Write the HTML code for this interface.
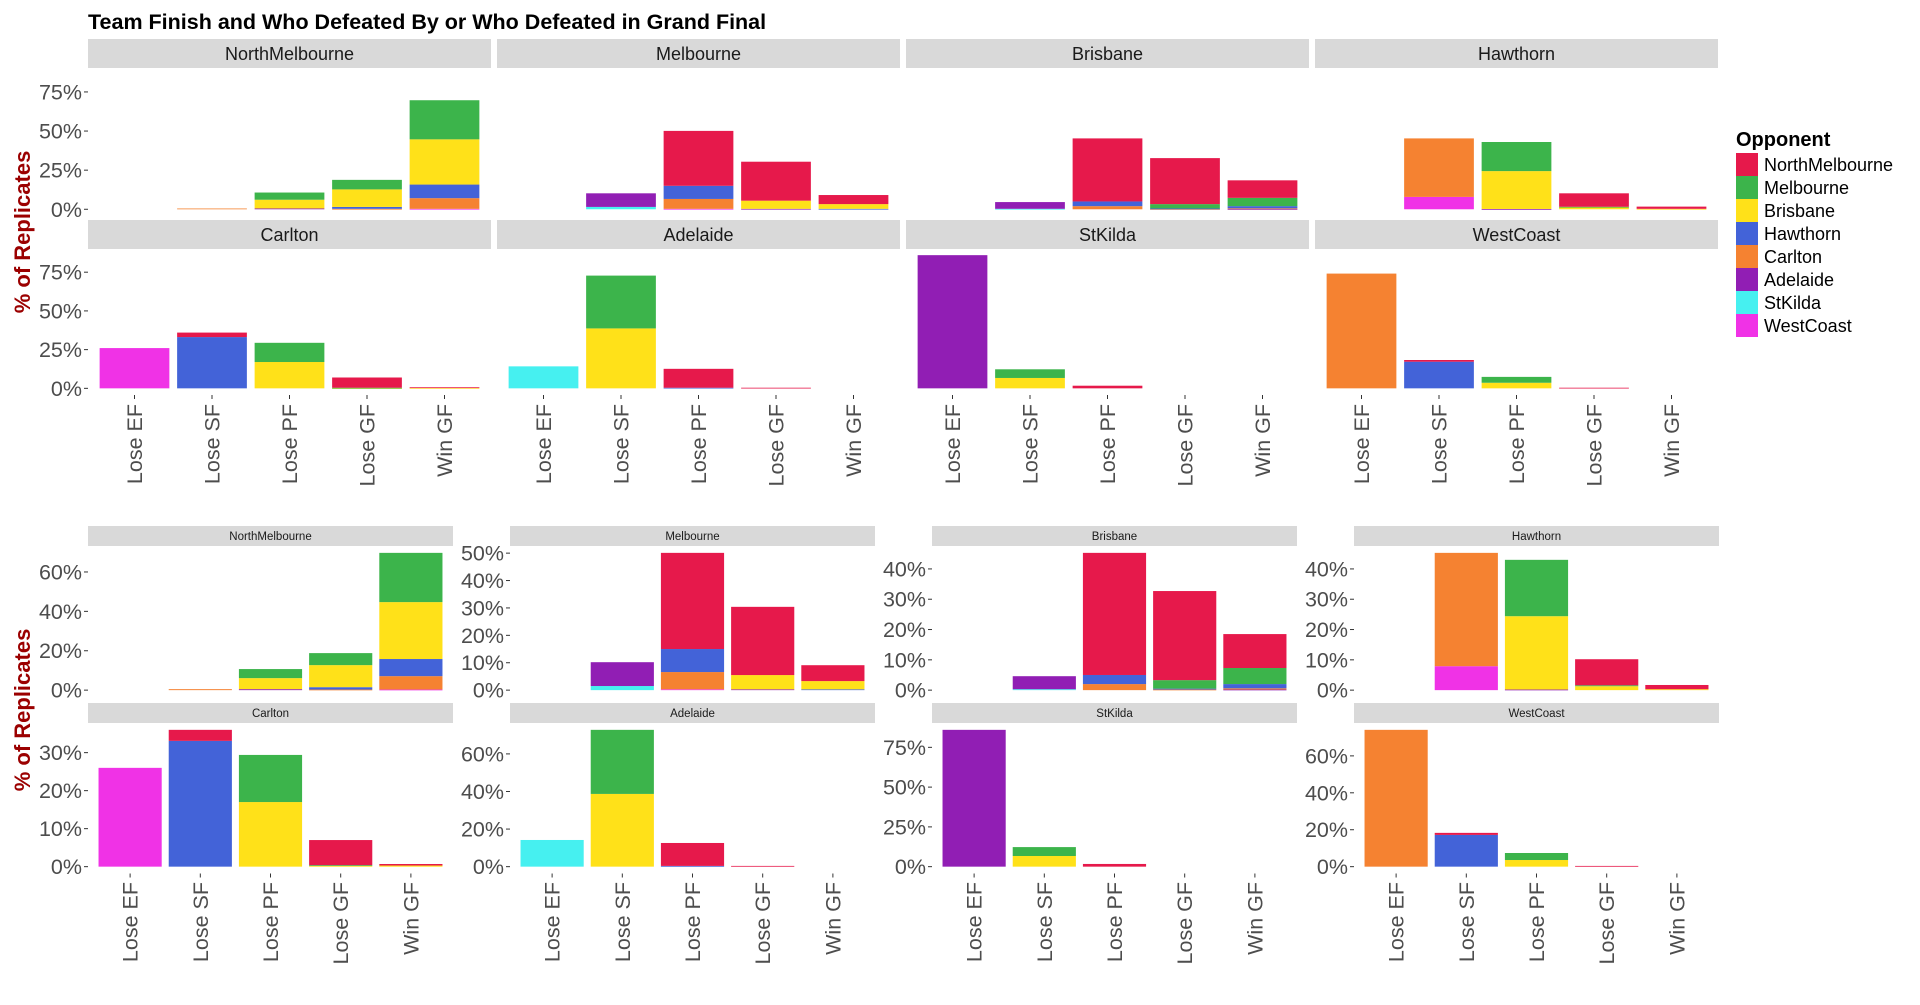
<!DOCTYPE html>
<html><head><meta charset="utf-8"><style>
html,body{margin:0;padding:0;background:#fff;}
svg{display:block;font-family:"Liberation Sans",Arial,sans-serif;}
</style></head><body>
<svg id="chart" width="1920" height="1005" viewBox="0 0 1920 1005" xmlns="http://www.w3.org/2000/svg">
<text x="88" y="29" font-size="21.5" font-weight="bold" fill="#000">Team Finish and Who Defeated By or Who Defeated in Grand Final</text>
<text transform="translate(30,232) rotate(-90)" text-anchor="middle" font-size="22" font-weight="bold" fill="#9b0000">% of Replicates</text>
<text transform="translate(30,710) rotate(-90)" text-anchor="middle" font-size="22" font-weight="bold" fill="#9b0000">% of Replicates</text>
<g id="legend"></g>
<g id="top"></g><g id="bottom"></g>
</svg>
<script>
const categories = ["Lose EF","Lose SF","Lose PF","Lose GF","Win GF"];
const opponents = ["NorthMelbourne","Melbourne","Brisbane","Hawthorn","Carlton","Adelaide","StKilda","WestCoast"];
const colors = ["#e6194b","#3cb44b","#ffe119","#4363d8","#f58231","#911eb4","#46f0f0","#f032e6"];
const teams = ["NorthMelbourne","Melbourne","Brisbane","Hawthorn","Carlton","Adelaide","StKilda","WestCoast"];
// values[category][opponent] in percent
const northMelbourneVals = [[0,0,0,0,0,0,0,0],[0,0,0,0,0.5,0,0,0],[0,4.6,5.6,0,0,0.5,0,0],[0,6.1,11.2,1.2,0.3,0,0,0],[0,25,28.9,8.7,6.8,0,0,0.3]];
const melbourneVals = [[0,0,0,0,0,0,0,0],[0,0,0,0,0,8.7,1.5,0],[35.1,0,0,8.4,6.3,0,0,0.3],[24.9,0,5.2,0,0,0.3,0,0],[5.8,0,3.0,0.3,0,0,0,0]];
const brisbaneVals = [[0,0,0,0,0,0,0,0],[0,0,0,0,0,4.3,0.3,0],[40.3,0,0,3.0,2.0,0,0,0],[29.4,2.8,0,0.3,0.2,0,0,0],[11.2,5.3,0,1.4,0.4,0.2,0,0]];
const hawthornVals = [[0,0,0,0,0,0,0,0],[0,0,0,0,37.4,0,0,7.9],[0,18.6,24.2,0,0,0.2,0,0],[8.6,0.3,1.3,0,0,0,0,0],[1.4,0,0.3,0,0,0,0,0]];
const carltonVals = [[0,0,0,0,0,0,0,26.0],[2.9,0,0,33.1,0,0,0,0],[0,12.4,17.0,0,0,0,0,0],[6.6,0.2,0.2,0,0,0,0,0],[0.4,0,0.3,0,0,0,0,0]];
const adelaideVals = [[0,0,0,0,0,0,14.2,0],[0,34.1,38.7,0,0,0,0,0],[12.2,0,0,0.4,0,0,0,0],[0.4,0,0,0,0,0,0,0],[0,0,0,0,0,0,0,0]];
const stKildaVals = [[0,0,0,0,0,86,0,0],[0,5.6,6.7,0,0,0,0,0],[1.7,0,0,0,0,0,0,0],[0,0,0,0,0,0,0,0],[0,0,0,0,0,0,0,0]];
const westCoastVals = [[0,0,0,0,74.1,0,0,0],[1.1,0,0,17.2,0,0,0,0],[0,3.8,3.6,0,0,0,0,0],[0.4,0,0,0,0,0,0,0],[0,0,0,0,0,0,0,0]];
const teamValues = [northMelbourneVals,melbourneVals,brisbaneVals,hawthornVals,carltonVals,adelaideVals,stKildaVals,westCoastVals];
const topTicks = [0,25,50,75];
const bottomTicks = [[0,20,40,60],[0,10,20,30,40,50],[0,10,20,30,40],[0,10,20,30,40],[0,10,20,30],[0,20,40,60],[0,25,50,75],[0,20,40,60]];

const NS = "http://www.w3.org/2000/svg";
function mk(parent, tag, attrs, text){
  const e = document.createElementNS(NS, tag);
  for (const k in attrs) e.setAttribute(k, attrs[k]);
  if (text !== undefined) e.textContent = text;
  parent.appendChild(e); return e;
}
function totals(vals){ return vals.map(r => r.reduce((a,b)=>a+b,0)); }
const globalMax = Math.max(...teamValues.map(v => Math.max(...totals(v))));

function drawPanel(g, ti, px, pw, stripY, stripH, plotTop, plotBot, ymax, ticks, stripFont, showX, xLabTop, showY) {
  const panel = mk(g, "g", {});
  
  
  const strip = mk(panel, "rect", {x:px, y:stripY, width:pw, height:stripH, fill:"#d9d9d9"});
  
  
  const st = mk(panel, "text", {x:px+pw/2, y:stripY+stripH/2+stripFont*0.36, "text-anchor":"middle", "font-size":stripFont, fill:"#1a1a1a"}, teams[ti]);
  
  
  const lo = -0.05*ymax, hi = 1.05*ymax;
  const yS = v => plotBot - (v - lo)/(hi - lo)*(plotBot - plotTop);
  const unit = pw/5.2;
  const xS = i => px + (i + 1 - 0.4)*unit;
  const vals = teamValues[ti];
  vals.forEach((row, ci) => {
    let base = 0;
    for (let oi = opponents.length-1; oi >= 0; oi--) {
      const v = row[oi]; if (v <= 0) continue;
      const y1 = yS(base), y2 = yS(base+v);
      const r = mk(panel, "rect", {x:xS(ci)-0.45*unit, y:y2, width:0.9*unit, height:Math.max(0.8,y1-y2), fill:colors[oi]});
      
      
      base += v;
    }
  });
  if (showY) {
    ticks.forEach(t => {
      const y = yS(t);
      mk(panel, "line", {x1:px-4, x2:px, y1:y, y2:y, stroke:"#333", "stroke-width":1});
      const tl = mk(panel, "text", {x:px-6, y:y+7.5, "text-anchor":"end", "font-size":21.5, fill:"#4d4d4d"}, t + "%");
      
      
    });
  }
  if (showX) {
    categories.forEach((c, ci) => {
      const x = xS(ci);
      mk(panel, "line", {x1:x, x2:x, y1:plotBot, y2:plotBot+4, stroke:"#333", "stroke-width":1});
      const xl = mk(panel, "text", {transform:`translate(${x+7.5},${xLabTop}) rotate(-90)`, "text-anchor":"end", "font-size":21.5, fill:"#4d4d4d"}, c);
      
      
    });
  }
}

const topG = document.getElementById("top");
const topX = [88,497,906,1315], topW = 403;
teams.forEach((t, i) => {
  const col = i % 4, row = Math.floor(i/4);
  if (row === 0) drawPanel(topG, i, topX[col], topW, 39, 29, 68, 216, globalMax, topTicks, 18, false, 0, col === 0);
  else drawPanel(topG, i, topX[col], topW, 220, 29, 248.5, 395, globalMax, topTicks, 18, true, 404, col === 0);
});
const botG = document.getElementById("bottom");
const botX = [88,510,932,1354], botW = 365;
teams.forEach((t, i) => {
  const col = i % 4, row = Math.floor(i/4);
  const m = Math.max(...totals(teamValues[i]));
  if (row === 0) drawPanel(botG, i, botX[col], botW, 526, 20, 546, 697, m, bottomTicks[i], 11.5, false, 0, true);
  else drawPanel(botG, i, botX[col], botW, 703, 20, 723, 873.5, m, bottomTicks[i], 11.5, true, 882, true);
});

const lg = document.getElementById("legend");
mk(lg, "text", {x:1736, y:146, "font-size":20, "font-weight":"bold", fill:"#000"}, "Opponent");
opponents.forEach((o, i) => {
  const y = 153 + i*23;
  const k = mk(lg, "rect", {x:1736, y:y, width:22, height:23, fill:colors[i]});
  
  
  const l = mk(lg, "text", {x:1764, y:y+18, "font-size":18, fill:"#000"}, o);
  
  
});
</script>
</body></html>
